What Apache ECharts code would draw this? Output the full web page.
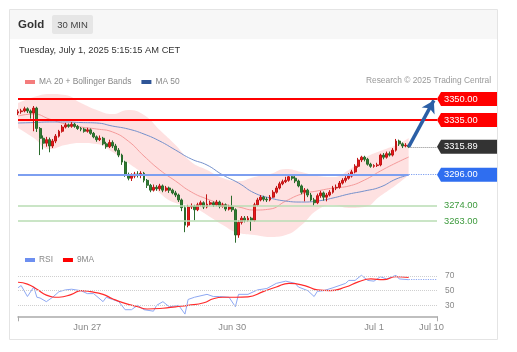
<!DOCTYPE html>
<html>
<head>
<meta charset="utf-8">
<script src="https://cdn.jsdelivr.net/npm/echarts@6/dist/echarts.min.js"></script>
<style>
  html, body { margin: 0; padding: 0; background: #fff; }
  #main { width: 517px; height: 352px; }
</style>
</head>
<body>
<div id="main"></div>
<script>
// 30 min bars, Jun 26 afternoon -> Jul 1 05:00 CET
var opens = [3340, 3341, 3341.5, 3343, 3341.5, 3340, 3343.5, 3329, 3322, 3318.5,
  3321, 3316.5, 3320, 3323.5, 3327, 3330, 3331.5, 3330.5, 3332, 3330.5,
  3329, 3328.5, 3327, 3328, 3325.5, 3323, 3321, 3322, 3318, 3316,
  3319, 3316.5, 3313.5, 3310, 3305, 3296, 3293.5, 3295, 3296.5, 3296,
  3297, 3292, 3288.5, 3285, 3287, 3286, 3288, 3285, 3286.5, 3285,
  3283, 3281.5, 3278, 3272.5, 3260, 3273, 3273.5, 3271, 3274.5, 3276,
  3273, 3275, 3276, 3274.5, 3276.5, 3273.5, 3274.5, 3271.5, 3273, 3271,
  3253, 3262, 3265, 3263.5, 3265, 3263.5, 3274.5, 3278, 3280, 3278.5,
  3278, 3280, 3283.5, 3286.5, 3289.5, 3291, 3292, 3294.5, 3293.5, 3291.5,
  3288, 3283.5, 3285, 3281.5, 3278, 3276, 3281, 3283, 3280, 3281.5,
  3283.5, 3286.5, 3287, 3290, 3292, 3293.5, 3295, 3298, 3302, 3306.5,
  3308.5, 3307, 3303.5, 3302, 3302.5, 3303, 3310, 3308.5, 3311, 3310,
  3313.5, 3320, 3318, 3316.5, 3317];
var closes = [3341, 3341.5, 3343, 3341.5, 3340, 3343.5, 3329, 3322, 3318.5, 3321,
  3316.5, 3320, 3323.5, 3327, 3330, 3331.5, 3330.5, 3332, 3330.5, 3329,
  3328.5, 3327, 3328, 3325.5, 3323, 3321, 3322, 3318, 3316, 3319,
  3316.5, 3313.5, 3310, 3305, 3296, 3293.5, 3295, 3296.5, 3296, 3297,
  3292, 3288.5, 3285, 3287, 3286, 3288, 3285, 3286.5, 3285, 3283,
  3281.5, 3278, 3272.5, 3260, 3273, 3273.5, 3271, 3274.5, 3276, 3273,
  3275, 3276, 3274.5, 3276.5, 3273.5, 3274.5, 3271.5, 3273, 3271, 3253,
  3262, 3265, 3263.5, 3265, 3263.5, 3274.5, 3278, 3280, 3278.5, 3278,
  3280, 3283.5, 3286.5, 3289.5, 3291, 3292, 3294.5, 3293.5, 3291.5, 3288,
  3283.5, 3285, 3281.5, 3278, 3276, 3281, 3283, 3280, 3281.5, 3283.5,
  3286.5, 3287, 3290, 3292, 3293.5, 3295, 3298, 3302, 3306.5, 3308.5,
  3307, 3303.5, 3302, 3302.5, 3303, 3310, 3308.5, 3311, 3310, 3313.5,
  3320, 3318, 3316.5, 3317, 3315.89];
var lows = [3338.5, 3339.5, 3340.5, 3340, 3336, 3327, 3326.5, 3310, 3314, 3316,
  3312, 3315, 3318.5, 3322.5, 3326, 3329, 3329.5, 3329.5, 3329.5, 3328,
  3327, 3326, 3326, 3324.5, 3322, 3319.5, 3320, 3317, 3314.5, 3315,
  3315, 3312.5, 3308.5, 3303, 3294.5, 3292, 3291.5, 3293.5, 3294, 3293.5,
  3290.5, 3286.5, 3283.5, 3284, 3284.5, 3284.5, 3283.5, 3284, 3283, 3282,
  3280, 3276.5, 3270, 3255, 3258.5, 3271.5, 3263.5, 3270, 3273.5, 3271.5,
  3272, 3274, 3273, 3273.5, 3272, 3272.5, 3270, 3270.5, 3269.5, 3247.5,
  3251, 3260.5, 3262, 3262.5, 3256, 3262.5, 3273.5, 3277, 3277, 3276.5,
  3277, 3279.5, 3282.5, 3285.5, 3288.5, 3290, 3291, 3292, 3290, 3287,
  3282, 3277, 3280, 3277, 3274, 3275, 3279.5, 3277.5, 3277, 3280.5,
  3282.5, 3285, 3286, 3289, 3290.5, 3292.5, 3294, 3297, 3301, 3305,
  3305.5, 3302.5, 3301, 3301, 3301.5, 3302, 3307, 3307.5, 3309, 3309,
  3312.5, 3316.5, 3315, 3315.5, 3315];
var highs = [3342.5, 3343, 3344.5, 3344, 3342.5, 3345, 3344.5, 3330, 3324, 3323,
  3322.5, 3321.5, 3325, 3328, 3331.5, 3333, 3332.5, 3333.5, 3333, 3331.5,
  3330, 3329.5, 3329.5, 3329, 3326.5, 3324, 3324, 3323, 3319.5, 3321,
  3320.5, 3318, 3315, 3311, 3306, 3297.5, 3297, 3298, 3298.5, 3298.5,
  3298, 3293, 3289.5, 3289, 3288.5, 3289.5, 3289, 3288, 3287.5, 3286,
  3284.5, 3282.5, 3279, 3274, 3274.5, 3275.5, 3274.5, 3276, 3277.5, 3277,
  3282, 3277.5, 3277, 3278, 3277.5, 3276, 3275.5, 3274.5, 3281, 3272,
  3263.5, 3266.5, 3266.5, 3266.5, 3266, 3276, 3279.5, 3281.5, 3281, 3280,
  3281.5, 3285, 3288, 3291, 3292.5, 3294.5, 3295.5, 3295.5, 3295, 3292.5,
  3289, 3286.5, 3286, 3283, 3279.5, 3282.5, 3284.5, 3284, 3283, 3285,
  3288, 3289, 3291.5, 3293.5, 3295, 3297, 3299.5, 3303.5, 3308, 3309.5,
  3309.5, 3308, 3304.5, 3303.5, 3304.5, 3311, 3311.5, 3312.5, 3312.5, 3315,
  3321.5, 3321, 3319, 3318.5, 3318];

// moving averages + bands, read every 5 bars
var maIdx = [0, 5, 10, 15, 20, 25, 30, 35, 40, 45, 50, 55, 60, 65, 70, 75, 80, 85, 90, 95, 100, 105, 110, 115, 120, 124];
var ma20 = [3337.9, 3339.3, 3335.7, 3332.2, 3330.0, 3328.6, 3326.5, 3320.0, 3309.3, 3299.4, 3291.5, 3283.7, 3278.7,
  3275.1, 3273.0, 3270.8, 3271.5, 3277.2, 3282.2, 3284.4, 3286.5, 3287.9, 3292.2, 3298.6, 3304.4, 3308.6];
var bbUpper = [3347.1, 3351.4, 3353.6, 3352.9, 3347.1, 3342.2, 3339.3, 3342.2, 3338.6, 3327.9, 3317.2, 3305.1, 3299.4,
  3293.7, 3291.5, 3294.4, 3296.5, 3300.1, 3297.9, 3295.1, 3294.4, 3299.4, 3307.9, 3312.9, 3317.2, 3322.2];
var bbLower = [3329.3, 3322.2, 3314.3, 3317.2, 3318.6, 3317.9, 3312.2, 3304.4, 3295.8, 3283.0, 3275.8, 3273.7, 3267.3,
  3260.1, 3254.4, 3253.0, 3251.6, 3253.0, 3260.1, 3270.8, 3274.4, 3272.3, 3273.0, 3280.8, 3288.7, 3295.8];
var ma50 = [3332.9, 3333.2, 3333.6, 3333.6, 3333.2, 3332.9, 3330.7, 3328.6, 3325.0, 3320.0, 3313.6, 3307.2, 3302.9,
  3295.8, 3290.1, 3283.0, 3279.4, 3277.2, 3276.5, 3277.2, 3279.4, 3282.2, 3284.4, 3287.2, 3292.9, 3295.8];

// RSI panel
var rsiIdx = [0, 1, 3, 5, 6, 7, 9, 11, 13, 15, 17, 20, 22, 24, 27, 28, 30, 32, 34, 36, 38, 40, 43, 44, 46, 48, 51, 53, 54,
  56, 60, 62, 64, 67, 69, 70, 73, 76, 79, 82, 85, 88, 89, 92, 94, 95, 97, 100, 104, 105, 107, 109, 111, 113, 115, 117, 120, 121, 124];
var rsiVal = [54, 57, 42, 55, 41, 40, 35, 41, 48.6, 51, 52, 50, 46, 46, 35, 41, 38, 35, 24, 24, 30, 24, 22, 30, 35, 28, 30, 18, 38,
  41, 45, 42, 42, 41, 28, 45, 45, 51, 53, 60, 63, 60, 55, 50, 42, 49, 50, 54, 60, 64, 64, 71, 64, 63, 69, 66, 71, 66, 65];
var rsiMaIdx = [0, 3, 6, 9, 13, 17, 20, 23, 27, 30, 34, 38, 41, 46, 50, 54, 59, 62, 65, 69, 73, 78, 82, 86, 91, 95, 99, 104, 108, 112, 116, 120, 124];
var rsiMaVal = [61.5, 59, 52, 44, 41, 45, 50, 48.6, 45, 39, 32.6, 28, 25, 26, 28, 30, 33.5, 39, 41, 41, 41.5, 49, 55, 60, 57, 51, 50, 55, 62, 66, 65, 69, 68];
var rsiLevels = [30, 50, 70];

// key levels
var resistLevels = [3350, 3335];
var pivotLevel = 3296;
var supportLevels = [3274, 3263];
var lastPrice = 3315.89;
var targetPrice = 3350;

// x axis
var barCount = 134;
var labelIdx = [22, 68, 113, 133];
var labelText = ['Jun 27', 'Jun 30', 'Jul 1', 'Jul 10'];

var FONT = '"Liberation Sans", Arial, sans-serif';
var lastIdx = closes.length - 1;
var endIdx = barCount - 1;

var categories = [];
for (var i = 0; i < barCount; i++) categories.push(String(i));
var candles = opens.map(function (o, i) { return [o, closes[i], lows[i], highs[i]]; });
function pairs(xs, ys) { return xs.map(function (x, i) { return [x, ys[i]]; }); }
var bandWidth = bbUpper.map(function (u, i) { return +(u - bbLower[i]).toFixed(2); });

var tagPath = 'path://M0,7L4,0L60,0L60,14L4,14Z';
function tag(v, color) {
  return { coord: [endIdx, v], value: v, symbol: tagPath, symbolSize: [60, 14], symbolOffset: [30, 0],
    itemStyle: { color: color }, label: { color: '#fff' } };
}
function plainTag(v) {
  return { coord: [endIdx, v], value: v, symbol: 'rect', symbolSize: [60, 14], symbolOffset: [30, 0],
    itemStyle: { color: 'rgba(0,0,0,0)' }, label: { color: '#3d9a3d' } };
}

var levelLines = [];
resistLevels.forEach(function (v) {
  levelLines.push({ yAxis: v, lineStyle: { color: '#ff0000', width: 2, type: 'solid' } });
});
supportLevels.forEach(function (v) {
  levelLines.push({ yAxis: v, lineStyle: { color: '#b8dcb3', width: 1.5, type: 'solid' } });
});
levelLines.push([{ coord: [0, pivotLevel], lineStyle: { color: '#7d9ff0', width: 2, type: 'solid' } }, { coord: [lastIdx, pivotLevel] }]);
levelLines.push([{ coord: [lastIdx, pivotLevel], lineStyle: { color: '#7d9ff0', width: 1.2, type: 'dotted' } }, { coord: [endIdx, pivotLevel] }]);
levelLines.push([{ coord: [lastIdx, lastPrice], lineStyle: { color: '#888', width: 1, type: 'dotted' } }, { coord: [endIdx, lastPrice] }]);
levelLines.push([
  { coord: [lastIdx, lastPrice], symbol: 'none', lineStyle: { color: '#2b5fa6', width: 3.5, type: 'solid' } },
  { coord: [endIdx - 1, targetPrice - 1], symbol: 'arrow', symbolSize: [11, 12] }
]);

var myChart = echarts.init(document.getElementById('main'));
var option = {
  animation: false,
  backgroundColor: '#fff',
  textStyle: { fontFamily: FONT },
  graphic: [
    { type: 'rect', shape: { x: 9.5, y: 9.5, width: 488, height: 330 }, style: { fill: '#fff', stroke: '#e4e4e4', lineWidth: 1 }, z: -10 },
    { type: 'rect', shape: { x: 10, y: 10, width: 487, height: 29 }, style: { fill: '#f7f7f7' }, z: -9 },
    { type: 'rect', shape: { x: 52, y: 15, width: 41, height: 19, r: 2 }, style: { fill: '#e6e6e6' }, z: -8 },
    { type: 'text', x: 18, y: 25, style: { text: 'Gold', font: 'bold 11.5px ' + FONT, fill: '#333', verticalAlign: 'middle', textVerticalAlign: 'middle' } },
    { type: 'text', x: 72.5, y: 25, style: { text: '30 MIN', font: '9.5px ' + FONT, fill: '#444', align: 'center', textAlign: 'center', verticalAlign: 'middle', textVerticalAlign: 'middle' } },
    { type: 'text', x: 19, y: 50, style: { text: 'Tuesday, July 1, 2025 5:15:15 AM CET', font: '9.3px ' + FONT, fill: '#333', verticalAlign: 'middle', textVerticalAlign: 'middle' } },
    { type: 'text', x: 491, y: 81, style: { text: 'Research \u00a9 2025 Trading Central', font: '8.4px ' + FONT, fill: '#999', align: 'right', textAlign: 'right', verticalAlign: 'middle', textVerticalAlign: 'middle' } }
  ],
  legend: [{
    left: 20, top: 73, itemWidth: 10, itemHeight: 4, itemGap: 10, icon: 'rect',
    textStyle: { color: '#888', fontSize: 8.4, fontFamily: FONT, padding: [0, 0, 0, -1] },
    data: [{ name: 'MA 20 + Bollinger Bands', itemStyle: { color: '#f47c7c' } }, { name: 'MA 50', itemStyle: { color: '#2f5597' } }],
    selectedMode: false
  }, {
    left: 20, top: 251, itemWidth: 10, itemHeight: 4, itemGap: 10, icon: 'rect',
    textStyle: { color: '#888', fontSize: 8.4, fontFamily: FONT, padding: [0, 0, 0, -1] },
    data: [{ name: 'RSI', itemStyle: { color: '#6d8ff0' } }, { name: '9MA', itemStyle: { color: '#ff0000' } }],
    selectedMode: false
  }],
  grid: [
    { left: 18, right: 80, top: 92, height: 154.2, outerBoundsMode: 'none' },
    { left: 18, right: 80, top: 268.7, height: 47.6, outerBoundsMode: 'none' }
  ],
  xAxis: [{
    type: 'category', gridIndex: 0, data: categories, boundaryGap: false, show: false
  }, {
    type: 'category', gridIndex: 1, data: categories, boundaryGap: false,
    axisLine: { lineStyle: { color: '#aaa', width: 1.5 } },
    axisTick: { show: true, length: 5, lineStyle: { color: '#aaa' },
      interval: function (idx) { return idx === 0 || idx === endIdx; } },
    axisLabel: { color: '#888', fontSize: 9.3, fontFamily: FONT, margin: 7,
      interval: function (idx) { return labelIdx.indexOf(idx) >= 0; },
      formatter: function (v) {
        var k = labelIdx.indexOf(+v);
        if (k < 0) return '';
        return +v === endIdx ? '{e|' + labelText[k] + '}' : labelText[k];
      },
      rich: { e: { color: '#888', fontSize: 9.3, fontFamily: FONT, padding: [0, 11, 0, 0] } } },
    splitLine: { show: false }
  }],
  yAxis: [{
    type: 'value', gridIndex: 0, min: 3245, max: 3355, show: false, splitLine: { show: false }
  }, {
    type: 'value', gridIndex: 1, min: 15, max: 80, position: 'right',
    axisLine: { show: false }, axisTick: { show: false, customValues: rsiLevels },
    axisLabel: { color: '#888', fontSize: 8.4, fontFamily: FONT, margin: 8, customValues: rsiLevels },
    splitLine: { show: false }
  }],
  series: [{
    name: 'bbLow', type: 'line', xAxisIndex: 0, yAxisIndex: 0, stack: 'bb', smooth: true,
    data: pairs(maIdx, bbLower), showSymbol: false, lineStyle: { opacity: 0 }, silent: true, z: 1
  }, {
    name: 'bbBand', type: 'line', xAxisIndex: 0, yAxisIndex: 0, stack: 'bb', smooth: true,
    data: pairs(maIdx, bandWidth), showSymbol: false, lineStyle: { opacity: 0 },
    areaStyle: { color: 'rgba(250, 90, 90, 0.18)', opacity: 1 }, silent: true, z: 1
  }, {
    name: 'MA 20 + Bollinger Bands', type: 'line', xAxisIndex: 0, yAxisIndex: 0, smooth: true,
    data: pairs(maIdx, ma20), showSymbol: false, lineStyle: { color: '#f59a9a', width: 1 }, z: 2
  }, {
    name: 'MA 50', type: 'line', xAxisIndex: 0, yAxisIndex: 0, smooth: true,
    data: pairs(maIdx, ma50), showSymbol: false, lineStyle: { color: '#7490cc', width: 1 }, z: 2
  }, {
    name: 'Gold', type: 'candlestick', xAxisIndex: 0, yAxisIndex: 0, data: candles, barWidth: 2.4, z: 3,
    itemStyle: { color: '#e8191c', color0: '#2f7d32', borderColor: '#c01515', borderColor0: '#2a6b2c', borderWidth: 1 },
    markLine: {
      silent: true, symbol: ['none', 'none'], label: { show: false }, animation: false,
      data: levelLines
    },
    markPoint: {
      silent: true, animation: false,
      label: { show: true, position: 'insideLeft', distance: 7, fontSize: 9.3, fontFamily: FONT,
        formatter: function (p) { return p.value.toFixed(2); } },
      data: [tag(resistLevels[0], '#ff0000'), tag(resistLevels[1], '#ff0000'), tag(lastPrice, '#333333'),
        tag(pivotLevel, '#2f6ef0'), plainTag(supportLevels[0]), plainTag(supportLevels[1])]
    }
  }, {
    name: 'RSI', type: 'line', xAxisIndex: 1, yAxisIndex: 1,
    data: pairs(rsiIdx, rsiVal), showSymbol: false, lineStyle: { color: '#8ea8f2', width: 1 }, z: 2,
    markLine: {
      silent: true, symbol: ['none', 'none'], label: { show: false }, animation: false,
      data: rsiLevels.map(function (v) { return { yAxis: v, lineStyle: { color: '#cfcfcf', type: 'dotted', width: 1 } }; })
        .concat([[{ coord: [lastIdx, rsiVal[rsiVal.length - 1]], lineStyle: { color: '#8ea8f2', type: 'dotted', width: 1.2 } },
          { coord: [endIdx, rsiVal[rsiVal.length - 1]] }]])
    }
  }, {
    name: '9MA', type: 'line', xAxisIndex: 1, yAxisIndex: 1, smooth: true,
    data: pairs(rsiMaIdx, rsiMaVal), showSymbol: false, lineStyle: { color: '#ff2a2a', width: 1.2 }, z: 3
  }]
};
myChart.setOption(option);
</script>
</body>
</html>
